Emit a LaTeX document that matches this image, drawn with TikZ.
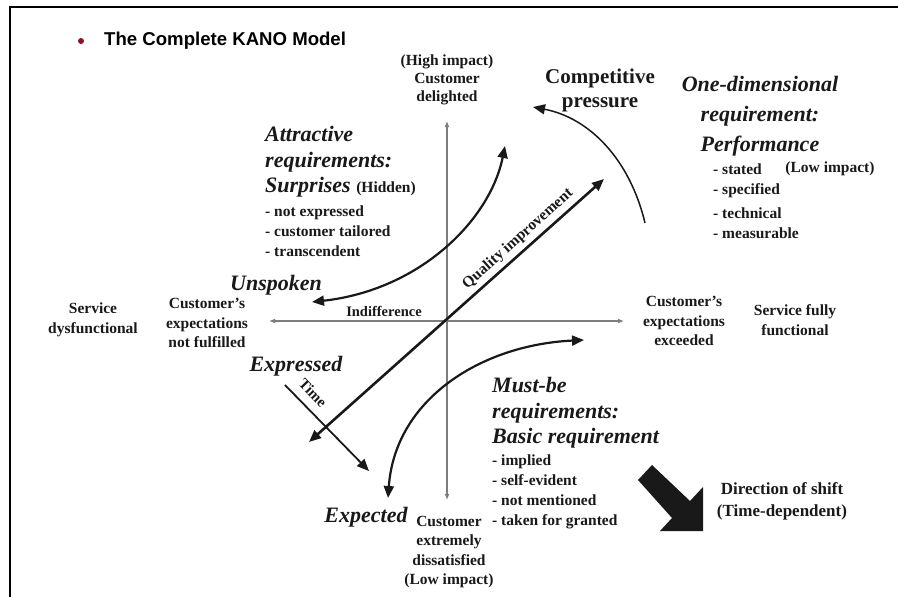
\documentclass[tikz,border=0pt]{standalone}
\usepackage{fontspec}
\setmainfont{Liberation Serif}
\newfontfamily\titlefont{Liberation Sans}
\usetikzlibrary{arrows.meta}
\definecolor{axisgray}{RGB}{125,125,125}
\definecolor{bulletred}{RGB}{140,20,30}
\definecolor{ink}{RGB}{25,25,25}

\begin{document}
\begin{tikzpicture}[x=1pt,y=-1pt,
  txt/.style={font=\bfseries\fontsize{15.5}{19.5}\selectfont,align=center,inner sep=0pt,text=ink},
  head/.style={font=\bfseries\itshape\fontsize{22}{25.5}\selectfont,align=left,inner sep=0pt,text=ink},
  lst/.style={font=\bfseries\fontsize{15.5}{20}\selectfont,align=left,inner sep=0pt,text=ink},
  axis/.style={draw=axisgray,line width=1.8pt,{Latex[length=6pt,width=5pt]}-{Latex[length=6pt,width=5pt]}},
  tip/.style={-{Triangle[length=12pt,width=10pt]}},
  tips/.style={{Triangle[length=12pt,width=10pt]}-{Triangle[length=12pt,width=10pt]}},
  curve/.style={draw=ink,line width=2.2pt}]
\useasboundingbox (0,0) rectangle (898,597);
\fill[white] (0,0) rectangle (898,597);
\draw[line width=1.5pt] (10,597) -- (10,7) -- (898,7);

% title
\fill[bulletred] (81,41) circle (3);
\node[anchor=west,font=\titlefont\bfseries\fontsize{18.6}{20}\selectfont,inner sep=0pt] (title) at (104,41) {The Complete KANO Model};

% axes
\coordinate (o) at (447,321);
\coordinate (yt) at (447,121);
\coordinate (yb) at (447,500);
\coordinate (xl) at (269,321);
\coordinate (xr) at (624,321);
\draw[axis] (yb) -- (yt);
\draw[axis] (xl) -- (xr);

% axis labels
\node[txt,font=\bfseries\fontsize{15.5}{18}\selectfont] (delight) at (447,80) {(High impact)\\Customer\\delighted};
\node[txt] (dysf) at (93,320) {Service\\dysfunctional};
\node[txt] (notful) at (207,323) {Customer's\\expectations\\not fulfilled};
\node[txt,font=\bfseries\fontsize{14.5}{16}\selectfont] (indiff) at (384,311) {Indifference};
\node[txt] (exceed) at (684,321) {Customer's\\expectations\\exceeded};
\node[txt] (fullfn) at (795,320) {Service fully\\functional};
\node[txt] (dissat) at (449,552) {Customer\\extremely\\dissatisfied\\(Low impact)};

% italic keywords
\node[head] (unspoken) at (276,285) {Unspoken};
\node[head] (expressed) at (296,366) {Expressed};
\node[head] (expected) at (366,517) {Expected};

% attractive
\node[head,anchor=west] (attr) at (265,162) {Attractive\\requirements:\\Surprises {\upshape\fontsize{15.5}{19}\selectfont (Hidden)}};
\node[lst,anchor=west] (attrlist) at (265,231) {- not expressed\\- customer tailored\\- transcendent};

% one-dimensional
\node[head,align=center,font=\bfseries\itshape\fontsize{22}{30}\selectfont] (onedim) at (760,116) {One-dimensional\\requirement:\\Performance};
\node[lst,anchor=west] (onelist) at (713,201) {- stated\\- specified\\[4pt]- technical\\- measurable};
\node[txt] (lowimp) at (830,169) {(Low impact)};

% must-be
\node[head,anchor=west] (mustbe) at (492,413) {Must-be\\requirements:\\Basic requirement};
\node[lst,anchor=west] (mustlist) at (492,492) {- implied\\- self-evident\\- not mentioned\\- taken for granted};

% competitive pressure
\node[txt,font=\bfseries\fontsize{21}{24}\selectfont] (compet) at (600,90) {Competitive\\pressure};
\coordinate (c1) at (645,223);
\coordinate (c2) at (533,107);
\draw[ink,line width=1.5pt,tip] (c1) .. controls (630,160) and (590,118) .. (c2);

% attractive and must-be curves
\coordinate (a1) at (312,302);
\coordinate (a2) at (505,146);
\draw[curve,tips] (a1) .. controls (420,290) and (490,220) .. (a2);
\coordinate (m1) at (388,498);
\coordinate (m2) at (584,340);
\draw[curve,tips] (m1) .. controls (395,400) and (480,345) .. (m2);

% quality improvement
\coordinate (q1) at (309,442);
\coordinate (q2) at (604,179);
\draw[ink,line width=2.6pt,tips] (q1) -- (q2);
\node[txt,rotate=41.7] (quality) at (518,239) {Quality improvement};

% time
\coordinate (t1) at (285,385);
\coordinate (t2) at (369,471);
\draw[ink,line width=1.8pt,tip] (t1) -- (t2);
\node[txt,font=\bfseries\fontsize{15}{16}\selectfont,rotate=-46] (time) at (313,393) {Time};

% direction of shift
\fill[ink] (652,465) -- (690,501) -- (703,487) -- (703,531) -- (660,531) -- (672,518) -- (638,480) -- cycle;
\node[txt,font=\bfseries\fontsize{17}{22}\selectfont] (shiftlbl) at (782,501) {Direction of shift\\(Time-dependent)};
\end{tikzpicture}
\end{document}
